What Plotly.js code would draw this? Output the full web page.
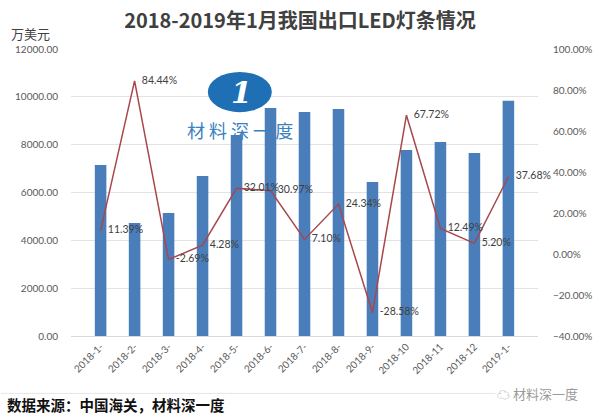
<!DOCTYPE html>
<html><head><meta charset="utf-8">
<script src="https://cdn.plot.ly/plotly-3.0.1.min.js"></script>
<style>body{margin:0;background:#fff}#c{width:600px;height:414px}</style>
</head><body><div id="c"></div>
<script>
const categories = ["2018-1-","2018-2-","2018-3-","2018-4-","2018-5-","2018-6-","2018-7-","2018-8-","2018-9-","2018-10","2018-11","2018-12","2019-1-"];
const exportValues = [7150, 4725, 5140, 6690, 8400, 9530, 9370, 9490, 6440, 7780, 8110, 7650, 9840];
const growthPct = [11.39, 84.44, -2.69, 4.28, 32.01, 30.97, 7.10, 24.34, -28.58, 67.72, 12.49, 5.20, 37.68];
const growthLabels = growthPct.map(v => v.toFixed(2) + "%");

const font = "Lato, 'Noto Sans CJK SC', sans-serif";
const traces = [
  {type:"bar", x:categories, y:exportValues, marker:{color:"#4a7ebb"}, hoverinfo:"none"},
  {type:"scatter", mode:"lines+markers+text", x:categories, y:growthPct, yaxis:"y2",
   line:{color:"#a8474c", width:1.5}, marker:{size:10, opacity:0},
   text:growthLabels, textposition:"middle right",
   textfont:{size:10.5, color:"#404040", family:font}, cliponaxis:false}
];
const layout = {
  width:600, height:414, showlegend:false,
  margin:{l:71, r:62, t:49, b:78},
  paper_bgcolor:"#fff", plot_bgcolor:"#fff",
  bargap:0.66,
  font:{family:font, color:"#595959", size:10},
  title:{text:"2018-2019年1月我国出口LED灯条情况", x:0.5, xanchor:"center", y:0.95, yanchor:"middle",
         font:{family:"'Noto Sans CJK SC', sans-serif", size:20, color:"#404040", weight:"bold"}},
  xaxis:{type:"category", tickangle:-45, tickfont:{size:10, color:"#595959"}, showgrid:false,
         showline:true, linecolor:"#d9d9d9", ticks:"", automargin:false},
  yaxis:{range:[0,12000], dtick:2000, tickformat:".2f", gridcolor:"#e3e3e3", zeroline:false,
         tickfont:{size:10, color:"#595959"}, ticks:"", automargin:false, ticklabelstandoff:12},
  yaxis2:{overlaying:"y", side:"right", range:[-40,100], dtick:20, tickformat:".2f", ticksuffix:"%",
          showgrid:false, zeroline:false, tickfont:{size:10, color:"#595959"}, automargin:false, ticklabelstandoff:14},
  shapes:[
    {type:"circle", xref:"paper", yref:"paper", x0:0.293, x1:0.43, y0:0.92, y1:0.78, fillcolor:"#1f6fb5", line:{width:0}, layer:"above"},
    {type:"line", xref:"paper", yref:"paper", x0:-0.15, x1:1.0, y0:-0.2, y1:-0.2, line:{color:"#e6e6e6", width:1}}
  ],
  annotations:[
    {text:"万美元", xref:"paper", yref:"paper", x:-0.132, y:1.015, xanchor:"left", yanchor:"bottom", showarrow:false,
     font:{size:13, color:"#404040", family:"'Noto Sans CJK SC', sans-serif"}},
    {text:"<b><i>1</i></b>", xref:"paper", yref:"paper", x:0.365, y:0.85, xanchor:"center", yanchor:"middle", showarrow:false,
     font:{size:30, color:"#fff", family:"'DejaVu Serif', serif"}},
    {text:"材 料 深 一 度", xref:"paper", yref:"paper", x:0.362, y:0.718, xanchor:"center", yanchor:"middle", showarrow:false,
     font:{size:18, color:"#3a7fc0", family:"'Noto Sans CJK SC', sans-serif"}},
    {text:"<b>数据来源：中国海关，材料深一度</b>", xref:"paper", yref:"paper", x:-0.142, y:-0.237, xanchor:"left", yanchor:"middle", showarrow:false,
     font:{size:14.5, color:"#111", family:"'Noto Sans CJK SC', sans-serif"}},
    {text:"☁ 材料深一度", xref:"paper", yref:"paper", x:1.09, y:-0.2, xanchor:"right", yanchor:"middle", showarrow:false,
     bgcolor:"#fff", font:{size:13, color:"#9a9a9a", family:"'Noto Sans CJK SC', sans-serif"}}
  ]
};
Plotly.newPlot("c", traces, layout, {displayModeBar:false, staticPlot:true});
</script></body></html>
